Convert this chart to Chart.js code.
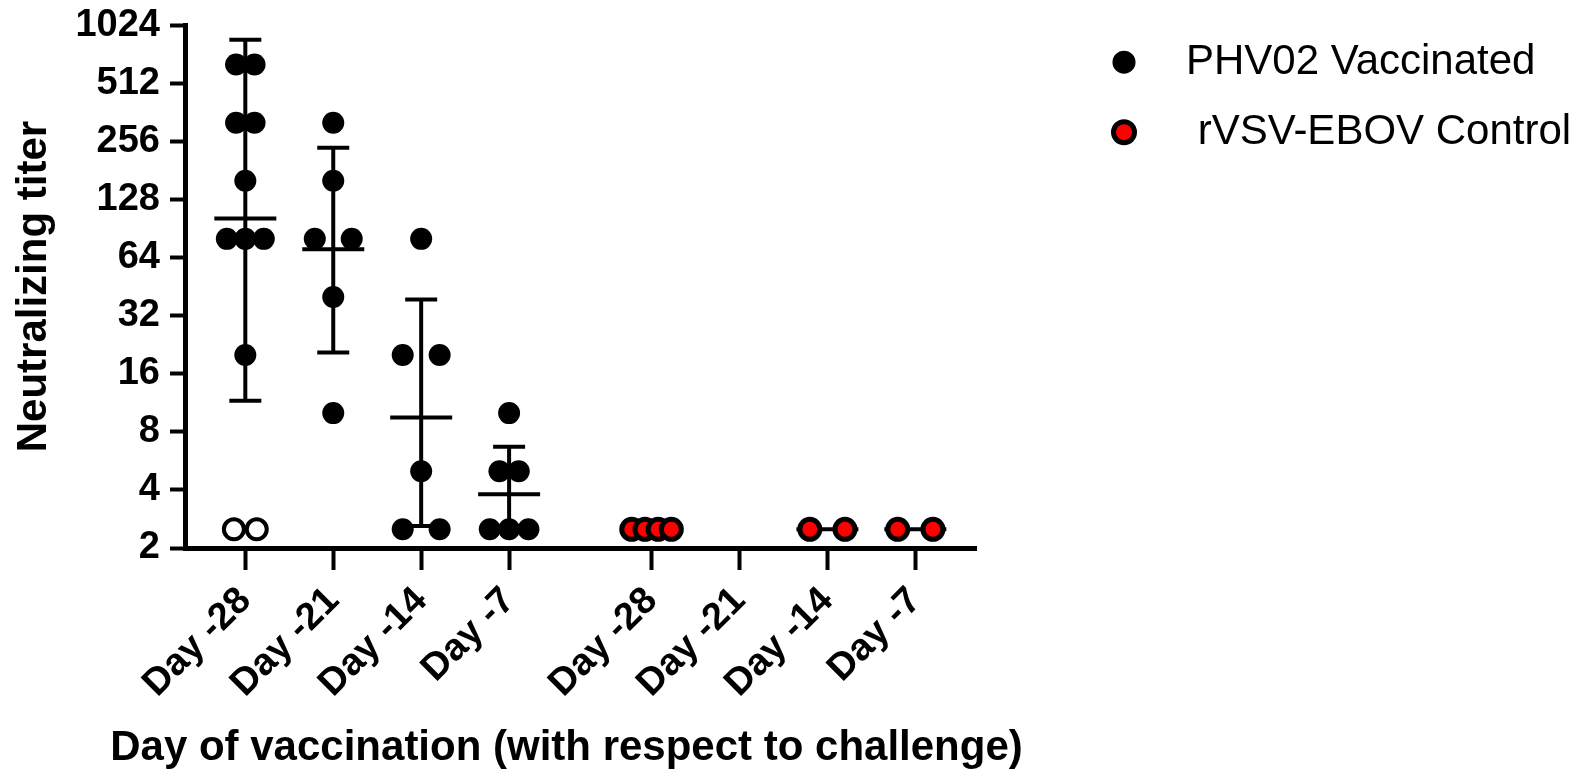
<!DOCTYPE html>
<html>
<head>
<meta charset="utf-8">
<script src="https://cdn.jsdelivr.net/npm/chart.js@4.4.1/dist/chart.umd.min.js"></script>
<style>
  html, body { margin: 0; padding: 0; background: #fff; }
  #wrap { width: 1576px; height: 776px; }
</style>
</head>
<body>
<div id="wrap"><canvas id="titer"></canvas></div>
<script>
// day groups; the control block sits a little further right, as in the figure
var dayLabels = ['Day -28', 'Day -21', 'Day -14', 'Day -7', 'Day -28', 'Day -21', 'Day -14', 'Day -7'];
var dayPos = [0, 1, 2, 3, 4.62, 5.62, 6.62, 7.62];
var yTicks = [2, 4, 8, 16, 32, 64, 128, 256, 512, 1024];

// individual animals, PHV02 vaccinated
var vaccTiters = [
    [640, 640, 320, 320, 160, 80, 80, 80, 20],
    [320, 160, 80, 80, 40, 10],
    [80, 20, 20, 5, 2.5, 2.5],
    [10, 5, 5, 2.5, 2.5, 2.5]
];
// vaccinated animals drawn with open symbols
var vaccOpen = [[2.5, 2.5], [], [], []];
// rVSV-EBOV controls
var ctrlTiters = [[2.5, 2.5, 2.5, 2.5], [], [2.5, 2.5], [2.5, 2.5]];

// group mean and SD limits
var vaccMean = [102, 70.6, 9.5, 3.8];
var vaccUpper = [861, 237, 38.8, 6.7];
var vaccLower = [11.6, 20.6, 2.6, 2.5];
var ctrlMean = [2.5, null, 2.5, 2.5];

var xTitle = 'Day of vaccination (with respect to challenge)';
var yTitle = 'Neutralizing titer';

// horizontal spread of equal values inside a group (axis units)
var vaccStep = [0.21, 0.42, 0.42, 0.22];
var openStep = [0.26, 0, 0, 0];
var ctrlStep = [0.15, 0, 0.4, 0.4];

var BLACK = '#000000';
var RED = '#ff0000';
var FAMILY = '"Liberation Sans", Arial, sans-serif';

function toPoints(groups, firstPos, steps) {
    var pts = [];
    for (var g = 0; g < groups.length; g++) {
        var vals = groups[g];
        var counts = {};
        vals.forEach(function (v) { counts[v] = (counts[v] || 0) + 1; });
        var seen = {};
        vals.forEach(function (v) {
            var n = counts[v];
            var k = seen[v] || 0;
            seen[v] = k + 1;
            pts.push({ x: dayPos[firstPos + g] + (k - (n - 1) / 2) * steps[g], y: v });
        });
    }
    return pts;
}

var errorBars = {
    id: 'errorBars',
    beforeDatasetsDraw: function (chart) {
        var ctx = chart.ctx;
        var xs = chart.scales.x;
        var ys = chart.scales.y;
        function seg(x1, y1, x2, y2) {
            ctx.beginPath();
            ctx.moveTo(x1, y1);
            ctx.lineTo(x2, y2);
            ctx.stroke();
        }
        ctx.save();
        ctx.strokeStyle = BLACK;
        ctx.lineWidth = 4;
        for (var i = 0; i < vaccMean.length; i++) {
            var x = xs.getPixelForValue(dayPos[i]);
            var yT = ys.getPixelForValue(vaccUpper[i]);
            var yB = ys.getPixelForValue(vaccLower[i]);
            var yM = ys.getPixelForValue(vaccMean[i]);
            seg(x, yT, x, yB);
            seg(x - 16, yT, x + 16, yT);
            seg(x - 16, yB, x + 16, yB);
            seg(x - 31, yM, x + 31, yM);
        }
        for (var j = 0; j < ctrlMean.length; j++) {
            if (ctrlMean[j] === null) continue;
            var cx = xs.getPixelForValue(dayPos[4 + j]);
            var cy = ys.getPixelForValue(ctrlMean[j]);
            seg(cx - 31, cy, cx + 31, cy);
        }
        ctx.restore();
    }
};

// legend to the right of the plot and the x title (wider than the axis),
// drawn from the dataset styles
var sideText = {
    id: 'sideText',
    afterDraw: function (chart) {
        var ctx = chart.ctx;
        var area = chart.chartArea;
        var items = [chart.data.datasets[0], chart.data.datasets[2]];
        var dotX = area.right + 148;
        var textX = area.right + 210;
        ctx.save();
        ctx.font = '42px ' + FAMILY;
        ctx.textBaseline = 'middle';
        ctx.textAlign = 'left';
        items.forEach(function (ds, i) {
            var y = area.top + 37 + i * 70;
            ctx.beginPath();
            ctx.arc(dotX, y, ds.pointRadius + 0.5, 0, Math.PI * 2);
            ctx.fillStyle = ds.backgroundColor;
            ctx.fill();
            if (ds.borderWidth) {
                ctx.lineWidth = ds.borderWidth;
                ctx.strokeStyle = ds.borderColor;
                ctx.stroke();
            }
            ctx.fillStyle = BLACK;
            ctx.fillText(ds.label, textX, y);
        });

        ctx.font = 'bold 42px ' + FAMILY;
        ctx.textAlign = 'center';
        ctx.fillText(xTitle, (area.left + area.right) / 2 - 14, 748);
        ctx.restore();
    }
};

var boldTick = { family: FAMILY, size: 38, weight: 'bold', lineHeight: 0.8 };
var boldTitle = { family: FAMILY, size: 42, weight: 'bold' };

new Chart(document.getElementById('titer'), {
    type: 'scatter',
    data: {
        datasets: [
            {
                label: 'PHV02 Vaccinated',
                data: toPoints(vaccTiters, 0, vaccStep),
                pointRadius: 11, pointHoverRadius: 11,
                backgroundColor: BLACK, borderColor: BLACK, borderWidth: 0
            },
            {
                label: 'PHV02 Vaccinated (open)',
                data: toPoints(vaccOpen, 0, openStep),
                pointRadius: 10, pointHoverRadius: 10,
                backgroundColor: '#ffffff', borderColor: BLACK, borderWidth: 4
            },
            {
                label: ' rVSV-EBOV Control',
                data: toPoints(ctrlTiters, 4, ctrlStep),
                pointRadius: 10, pointHoverRadius: 10,
                backgroundColor: RED, borderColor: BLACK, borderWidth: 5
            }
        ]
    },
    options: {
        responsive: true,
        maintainAspectRatio: false,
        animation: false,
        layout: { padding: { top: 25, right: 600, left: 0, bottom: 0 } },
        plugins: {
            legend: { display: false },
            tooltip: { enabled: false }
        },
        scales: {
            x: {
                type: 'linear',
                bounds: 'data',
                min: -0.686,
                max: 8.31,
                afterBuildTicks: function (s) {
                    s.ticks = dayPos.map(function (v) { return { value: v }; });
                },
                afterFit: function (s) { s.height = 228; },
                ticks: {
                    autoSkip: false,
                    minRotation: 45,
                    maxRotation: 45,
                    padding: 14,
                    color: BLACK,
                    font: boldTick,
                    callback: function (v, i) { return dayLabels[i]; }
                },
                grid: { drawOnChartArea: false, drawTicks: true, tickLength: 22, tickWidth: 4, tickColor: BLACK },
                border: { display: true, color: BLACK, width: 5 },
                title: { display: false }
            },
            y: {
                type: 'logarithmic',
                bounds: 'data',
                min: 2,
                max: 1024,
                afterBuildTicks: function (s) {
                    s.ticks = yTicks.map(function (v) { return { value: v }; });
                },
                afterFit: function (s) { s.width = 185; },
                ticks: {
                    autoSkip: false,
                    padding: 10,
                    color: BLACK,
                    font: boldTick,
                    callback: function (v) { return String(v); }
                },
                grid: { drawOnChartArea: false, drawTicks: true, tickLength: 15, tickWidth: 4, tickColor: BLACK },
                border: { display: true, color: BLACK, width: 5 },
                title: {
                    display: true,
                    text: yTitle,
                    color: BLACK,
                    font: boldTitle,
                    padding: { top: 9, bottom: 0 }
                }
            }
        }
    },
    plugins: [errorBars, sideText]
});
</script>
</body>
</html>
